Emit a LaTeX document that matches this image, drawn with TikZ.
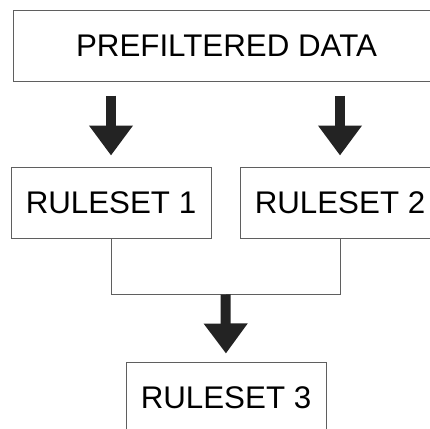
\documentclass[tikz,border=0pt]{standalone}
\usepackage{fontspec}
\setmainfont{Liberation Sans}
\usetikzlibrary{arrows.meta,positioning,calc}
\definecolor{boxline}{RGB}{95, 95, 95}
\definecolor{arrowdark}{RGB}{35, 35, 35}

\begin{document}
\begin{tikzpicture}[x=1pt, y=1pt,
        rulebox/.style={draw=boxline, line width=1pt, minimum width=200pt, minimum height=71pt,
                        inner sep=0pt, font=\fontsize{31.3}{36}\selectfont},
        bigarrow/.style={draw=arrowdark, line width=10pt, -{Triangle[width=42pt, length=30pt]}}]
            \useasboundingbox (0,0) rectangle (430,-428);
            \clip (0,0) rectangle (430,-428);
            \node[rulebox, minimum width=427pt, minimum height=70pt] (data)  at (226.5, -46.0) {PREFILTERED DATA};
            \node[rulebox] (rule1) at (111.0, -202.5) {RULESET 1};
            \node[rulebox] (rule2) at (340.0, -202.5) {RULESET 2};
            \node[rulebox] (rule3) at (226.0, -397.5) {RULESET 3};
            \draw[bigarrow, shorten <=14pt, shorten >=11pt] (data.south -| rule1.north) -- (rule1.north);
            \draw[bigarrow, shorten <=14pt, shorten >=11pt] (data.south -| rule2.north) -- (rule2.north);
            \draw[boxline, line width=1pt] (rule1.south) -- ++(0,-56) coordinate (joinleft) -| (rule2.south);
            \coordinate (join) at ($(joinleft)!0.5!(joinleft -| rule2.south)$);
            \draw[bigarrow, shorten >=8pt] (join) -- (rule3.north);
        \end{tikzpicture}
\end{document}
